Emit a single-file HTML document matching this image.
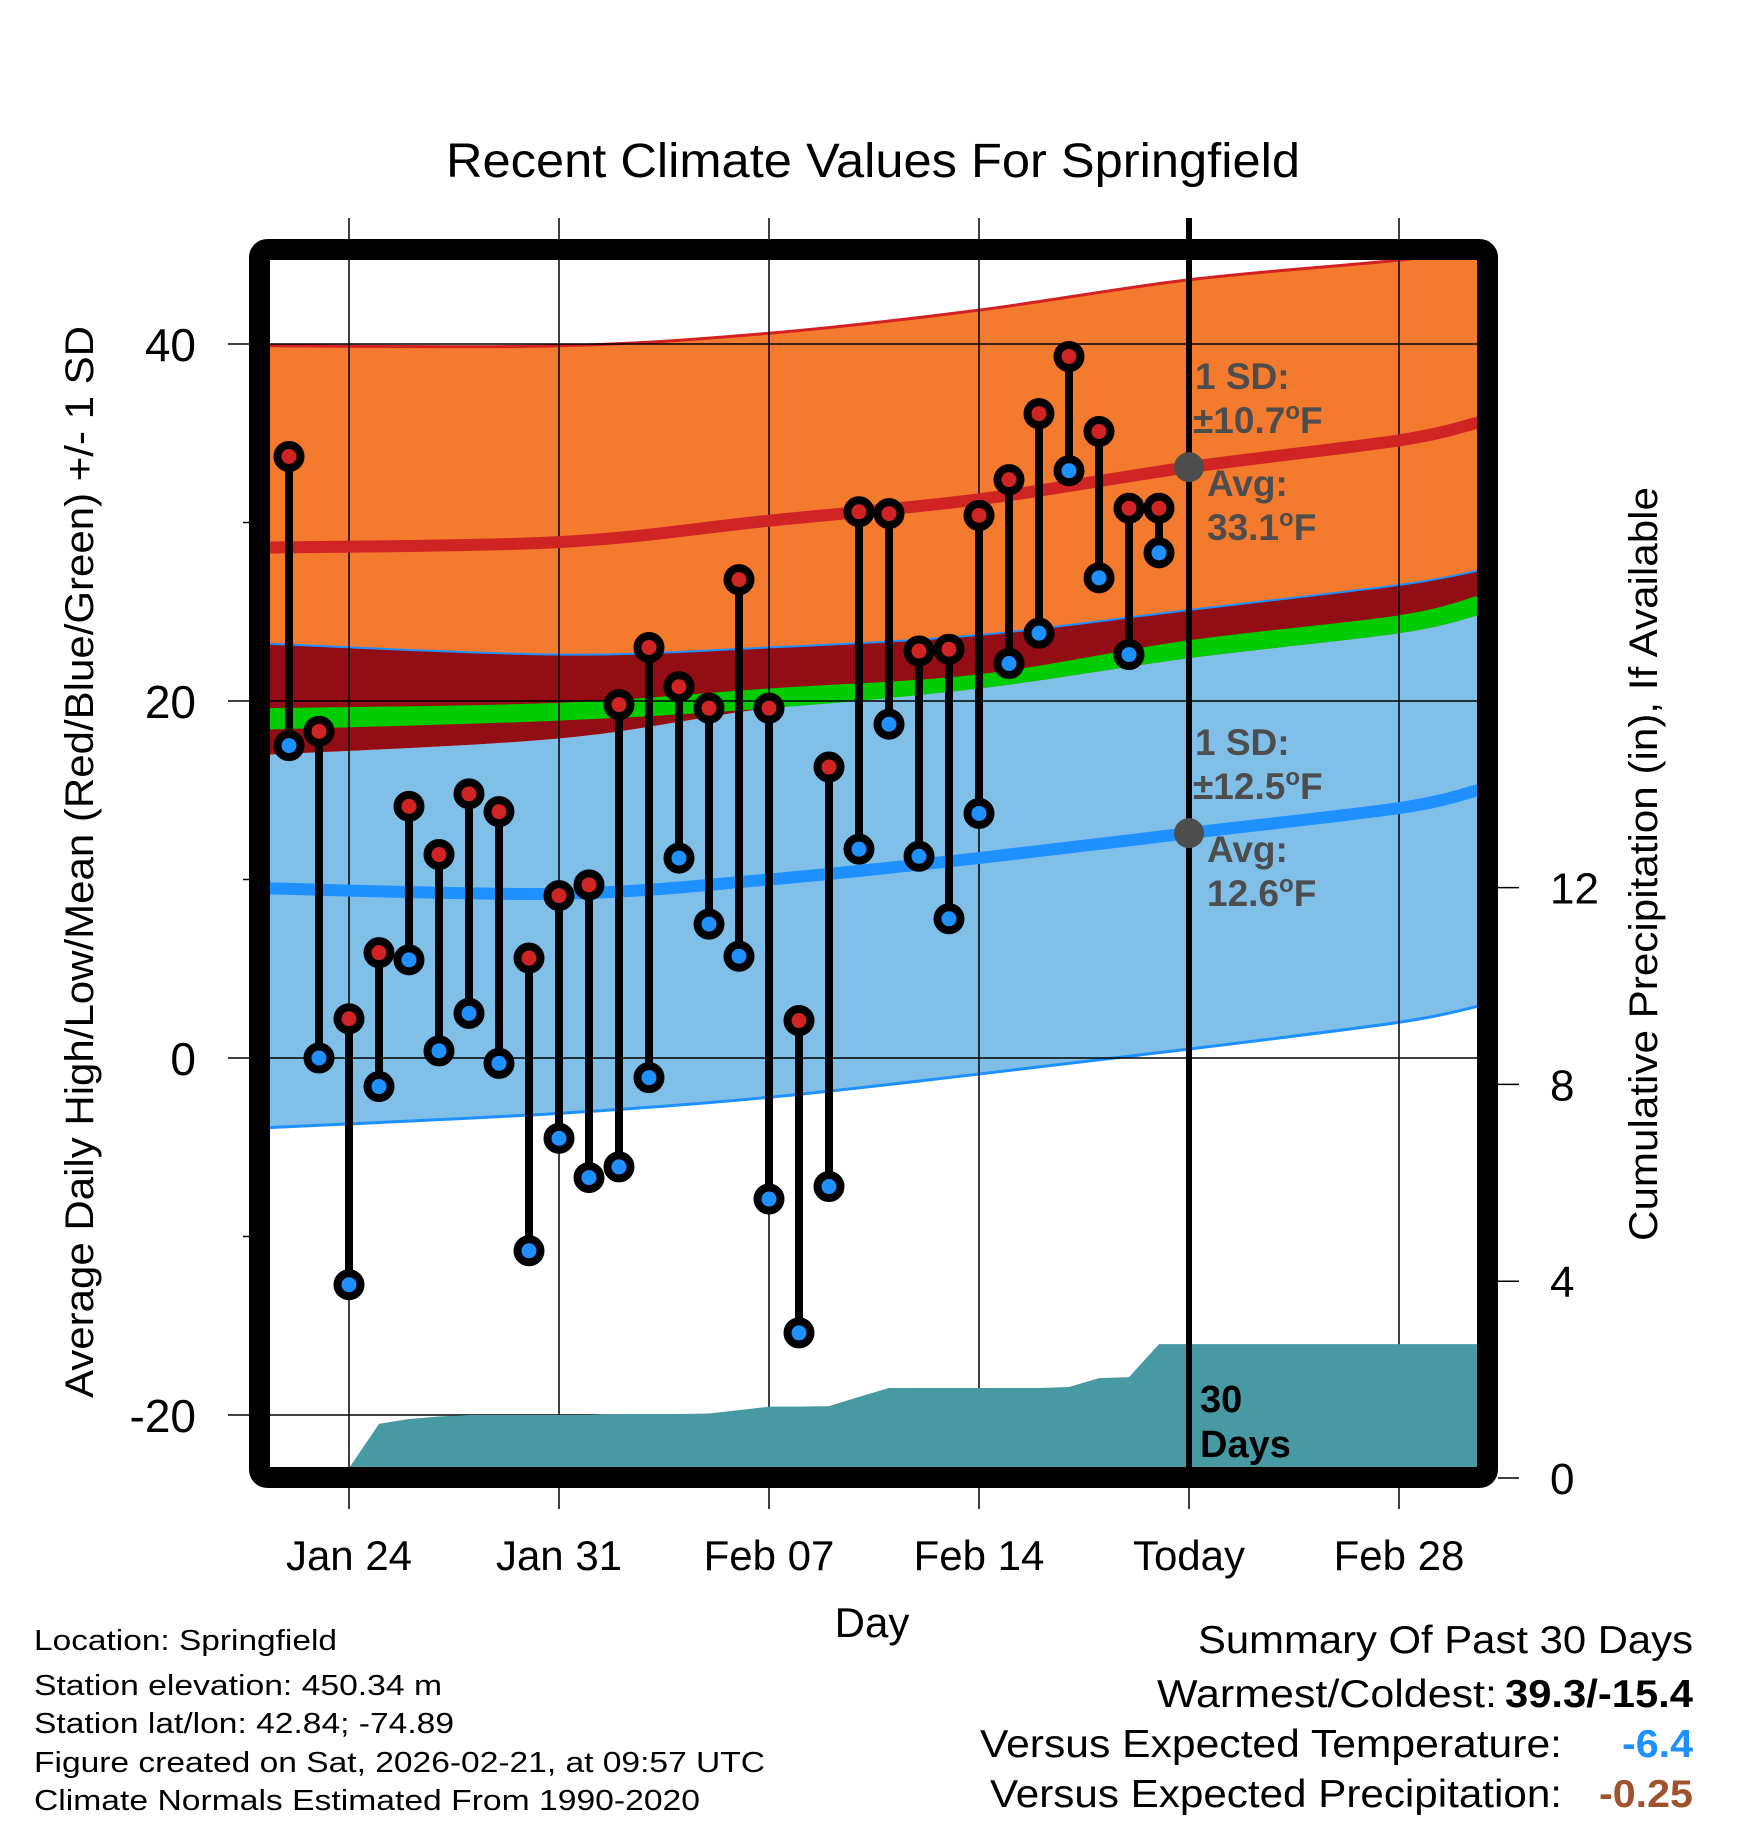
<!DOCTYPE html>
<html><head><meta charset="utf-8"><style>
html,body{margin:0;padding:0;background:#fff;}
svg{display:block;font-family:"Liberation Sans",Arial,sans-serif;}
</style></head><body>
<svg id="chart" width="1748" height="1828" viewBox="0 0 1748 1828" xmlns="http://www.w3.org/2000/svg">
<defs><clipPath id="plotclip"><rect x="270" y="260" width="1208" height="1208"/></clipPath></defs>
<rect x="0" y="0" width="1748" height="1828" fill="#fff"/>
<g id="bands" clip-path="url(#plotclip)"></g>
<g id="grid"></g>
<g id="means" clip-path="url(#plotclip)"></g>
<g id="precip" clip-path="url(#plotclip)"></g>
<line x1="1189" y1="218" x2="1189" y2="1468" stroke="#000" stroke-width="6"/>
<g id="marks"></g>
<g id="annot" fill="#4d4d4d" font-weight="bold" font-size="37">
<text x="1195" y="389">1 SD:</text>
<text x="1193" y="433">±10.7<tspan font-size="24" dy="-14">o</tspan><tspan dy="14">F</tspan></text>
<text x="1207" y="496">Avg:</text>
<text x="1207" y="540">33.1<tspan font-size="24" dy="-14">o</tspan><tspan dy="14">F</tspan></text>
<text x="1195" y="755">1 SD:</text>
<text x="1193" y="799">±12.5<tspan font-size="24" dy="-14">o</tspan><tspan dy="14">F</tspan></text>
<text x="1207" y="862">Avg:</text>
<text x="1207" y="906">12.6<tspan font-size="24" dy="-14">o</tspan><tspan dy="14">F</tspan></text>
</g>
<text x="1200" y="1412" font-size="38" font-weight="bold" fill="#000">30</text>
<text x="1200" y="1457" font-size="38" font-weight="bold" fill="#000">Days</text>
<rect x="259.5" y="249.5" width="1228" height="1228" rx="8" fill="none" stroke="#000" stroke-width="21"/>
<g id="axes"></g>
<text x="873" y="177" text-anchor="middle" font-size="48" textLength="854" lengthAdjust="spacingAndGlyphs">Recent Climate Values For Springfield</text>
<text x="872" y="1637" text-anchor="middle" font-size="42">Day</text>
<text transform="translate(93,862) rotate(-90)" text-anchor="middle" font-size="40" textLength="1072" lengthAdjust="spacingAndGlyphs">Average Daily High/Low/Mean (Red/Blue/Green) +/- 1 SD</text>
<text transform="translate(1657,864) rotate(-90)" text-anchor="middle" font-size="40" textLength="754" lengthAdjust="spacingAndGlyphs">Cumulative Precipitation (in), If Available</text>
<g font-size="29">
<text x="34" y="1650" textLength="303" lengthAdjust="spacingAndGlyphs">Location: Springfield</text>
<text x="34" y="1695" textLength="408" lengthAdjust="spacingAndGlyphs">Station elevation: 450.34 m</text>
<text x="34" y="1733" textLength="420" lengthAdjust="spacingAndGlyphs">Station lat/lon: 42.84; -74.89</text>
<text x="34" y="1772" textLength="731" lengthAdjust="spacingAndGlyphs">Figure created on Sat, 2026-02-21, at 09:57 UTC</text>
<text x="34" y="1810" textLength="666" lengthAdjust="spacingAndGlyphs">Climate Normals Estimated From 1990-2020</text>
</g>
<g font-size="39">
<text x="1198" y="1653" textLength="495" lengthAdjust="spacingAndGlyphs">Summary Of Past 30 Days</text>
<text x="1157" y="1707" textLength="340" lengthAdjust="spacingAndGlyphs">Warmest/Coldest:</text>
<text x="1505" y="1707" font-weight="bold" textLength="188" lengthAdjust="spacingAndGlyphs">39.3/-15.4</text>
<text x="980" y="1757" textLength="582" lengthAdjust="spacingAndGlyphs">Versus Expected Temperature:</text>
<text x="1622" y="1757" font-weight="bold" fill="#1e90ff" textLength="71" lengthAdjust="spacingAndGlyphs">-6.4</text>
<text x="990" y="1807" textLength="572" lengthAdjust="spacingAndGlyphs">Versus Expected Precipitation:</text>
<text x="1599" y="1807" font-weight="bold" fill="#a0522d" textLength="94" lengthAdjust="spacingAndGlyphs">-0.25</text>
</g>
</svg>
<script>
// ---- data ----
const normDays = [-2.633, 7, 14, 21, 28, 35, 37.633]; // days after Jan 24
const hiUpper = [39.9, 39.9, 40.6, 41.9, 43.6, 44.7, 45.3];
const hiMean  = [28.6, 28.9, 30.1, 31.3, 33.1, 34.6, 35.6];
const hiLower = [23.2, 22.6, 23.0, 23.7, 25.1, 26.5, 27.3];
const greenTop = [19.6, 19.9, 20.7, 21.5, 23.4, 24.8, 25.9];
const greenBot = [18.4, 18.9, 19.6, 20.7, 22.4, 23.8, 24.8];
const darkBot  = [17.0, 17.9, 19.6, 20.7, 22.4, 23.8, 24.8];
const loLower = [-3.9, -3.1, -2.2, -0.9, 0.5, 2.0, 2.9];
const loMean  = [9.5, 9.2, 10.0, 11.2, 12.6, 14.0, 15.0];
const highs = [33.7,18.3,2.2,5.9,14.1,11.4,14.8,13.8,5.6,9.1,9.7,19.8,23.0,20.8,19.6,26.8,19.6,2.1,16.3,30.6,30.5,22.8,22.9,30.4,32.4,36.1,39.3,35.1,30.8,30.8];
const lows  = [17.5,0.0,-12.7,-1.6,5.5,0.4,2.5,-0.3,-10.8,-4.5,-6.7,-6.1,-1.1,11.2,7.5,5.7,-7.9,-15.4,-7.2,11.7,18.7,11.3,7.8,13.7,22.1,23.8,32.9,26.9,22.6,28.3];
const precip = [0,0,0.2,1.1,1.2,1.25,1.28,1.28,1.28,1.28,1.28,1.3,1.3,1.3,1.31,1.38,1.45,1.45,1.46,1.65,1.83,1.83,1.83,1.83,1.83,1.83,1.85,2.03,2.05,2.72];
const firstDay = -2; // Jan 22 relative to Jan 24
const xTickDays = [0, 7, 14, 21, 28, 35];
const xTickLabels = ["Jan 24","Jan 31","Feb 07","Feb 14","Today","Feb 28"];
const yTicks = [40, 20, 0, -20];
const yTickLabels = ["40","20","0","-20"];
const yMinor = [30, 10, -10];
const pTicks = [0, 4, 8, 12];
const pTickLabels = ["0","4","8","12"];
const todayAvgHigh = 33.1, todayAvgLow = 12.6;

// ---- scales ----
const X = d => 349 + d * 30;
const Y = v => 1058 - v * 17.85;
const P = p => 1478 - p * 49.2;
const NS = "http://www.w3.org/2000/svg";
function mk(tag, parent, attrs){ const e=document.createElementNS(NS,tag); for(const k in attrs) e.setAttribute(k,attrs[k]); parent.appendChild(e); return e; }
function pts(days, vals){ return days.map((d,i)=>[X(d),Y(vals[i])]); }
function smooth(p){ // catmull-rom to bezier
  let s = `M${p[0][0]},${p[0][1]}`;
  for(let i=0;i<p.length-1;i++){
    const p0=p[Math.max(0,i-1)],p1=p[i],p2=p[i+1],p3=p[Math.min(p.length-1,i+2)];
    const c1=[p1[0]+(p2[0]-p0[0])/6,p1[1]+(p2[1]-p0[1])/6];
    const c2=[p2[0]-(p3[0]-p1[0])/6,p2[1]-(p3[1]-p1[1])/6];
    s+=` C${c1[0]},${c1[1]} ${c2[0]},${c2[1]} ${p2[0]},${p2[1]}`;
  }
  return s;
}
function rev(p){ return p.slice().reverse(); }
function bandPath(top, bot){
  const a=pts(normDays,top), b=rev(pts(normDays,bot));
  return smooth(a) + ' L' + smooth(b).slice(1) + ' Z';
}
const bands=document.getElementById('bands');
let e;
e=mk('path',bands,{d:bandPath(hiUpper,hiLower),fill:'#f47a2e'});


e=mk('path',bands,{d:bandPath(darkBot,loLower),fill:'#80c0e8'});


e=mk('path',bands,{d:bandPath(hiLower,darkBot),fill:'#920d14'});


e=mk('path',bands,{d:bandPath(greenTop,greenBot),fill:'#00cc00'});


e=mk('path',bands,{d:smooth(pts(normDays,hiUpper)),fill:'none',stroke:'#d42020','stroke-width':3});


e=mk('path',bands,{d:smooth(pts(normDays,hiLower)),fill:'none',stroke:'#1e90ff','stroke-width':2});


e=mk('path',bands,{d:smooth(pts(normDays,loLower)),fill:'none',stroke:'#1e90ff','stroke-width':3});



// grid
const grid=document.getElementById('grid');
xTickDays.forEach((d,i)=>{
  const g=mk('line',grid,{x1:X(d),x2:X(d),y1:218,y2:1509,stroke:'#000','stroke-width':1.5});
  
  
});
yTicks.forEach(v=>{
  const g=mk('line',grid,{x1:228,x2:1478,y1:Y(v),y2:Y(v),stroke:'#000','stroke-width':1.5});
  
  
});
yMinor.forEach(v=>{
  const g=mk('line',grid,{x1:243,x2:250,y1:Y(v),y2:Y(v),stroke:'#000','stroke-width':1.5});
  
  
});

// means
const means=document.getElementById('means');
e=mk('path',means,{d:smooth(pts(normDays,hiMean)),fill:'none',stroke:'#d02424','stroke-width':12});


e=mk('path',means,{d:smooth(pts(normDays,loMean)),fill:'none',stroke:'#1e90ff','stroke-width':12});



// precip
const pg=document.getElementById('precip');
let pd=`M${X(firstDay)},${P(0)}`;
precip.forEach((p,i)=>{ pd+=` L${X(firstDay+i)},${P(p)}`; });
pd+=` L1490,${P(precip[precip.length-1])} L1490,${P(0)} Z`;
e=mk('path',pg,{d:pd,fill:'#4799a3'});



// markers
const marks=document.getElementById('marks');
highs.forEach((h,i)=>{
  const x=X(firstDay+i);
  const s=mk('line',marks,{x1:x,x2:x,y1:Y(h),y2:Y(lows[i]),stroke:'#000','stroke-width':8});
  
  
  const c1=mk('circle',marks,{cx:x,cy:Y(h),r:11.5,fill:'#d02424',stroke:'#000','stroke-width':8});
  
  
  const c2=mk('circle',marks,{cx:x,cy:Y(lows[i]),r:11.5,fill:'#1e90ff',stroke:'#000','stroke-width':8});
  
  
});
e=mk('circle',marks,{cx:X(28),cy:Y(todayAvgHigh),r:15,fill:'#4d4d4d'});


e=mk('circle',marks,{cx:X(28),cy:Y(todayAvgLow),r:15,fill:'#4d4d4d'});



// axes labels
const axes=document.getElementById('axes');
xTickDays.forEach((d,i)=>{
  const t=mk('text',axes,{x:X(d),y:1570,'text-anchor':'middle','font-size':42});
  t.textContent=xTickLabels[i];
  
  
});
yTicks.forEach((v,i)=>{
  const t=mk('text',axes,{x:196,y:Y(v)+17,'text-anchor':'end','font-size':46});
  t.textContent=yTickLabels[i];
  
  
});
pTicks.forEach((p,i)=>{
  const l=mk('line',axes,{x1:1498,x2:1519,y1:P(p),y2:P(p),stroke:'#000','stroke-width':1.5});
  
  
  const t=mk('text',axes,{x:1550,y:P(p)+16,'font-size':44});
  t.textContent=pTickLabels[i];
  
  
});
</script>
</body></html>
